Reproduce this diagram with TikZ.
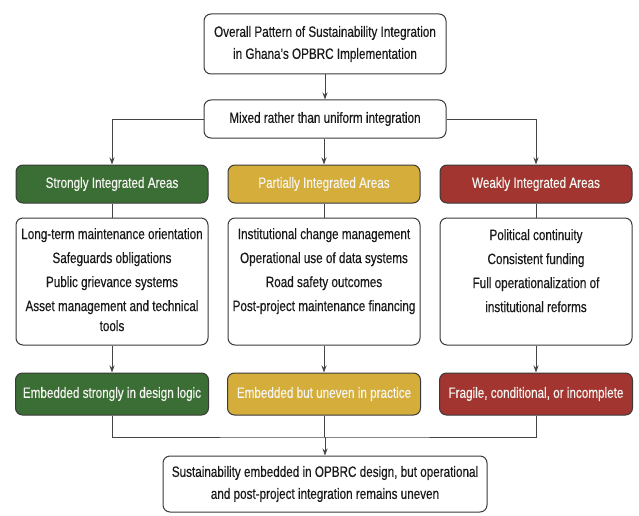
\documentclass[tikz,border=0pt]{standalone}
\usepackage{fontspec}
\setmainfont{Liberation Sans}[FakeStretch=0.78,FakeBold=0.35]
\usetikzlibrary{arrows.meta}
\definecolor{gfill}{HTML}{3B6E35}
\definecolor{yfill}{HTML}{D5AD3B}
\definecolor{rfill}{HTML}{A23530}
\definecolor{bordc}{HTML}{3A3A3A}
\definecolor{linec}{HTML}{444444}
\definecolor{htext}{HTML}{F4F4F0}
\begin{document}
\begin{tikzpicture}[x=1pt,y=-1pt,
  every node/.style={font=\fontsize{15}{22}\selectfont},
  box/.style={draw=bordc, line width=1pt, rounded corners=7pt, fill=white, inner sep=0pt, align=center, text=black!90},
  hdr/.style={box, text=htext, minimum width=192pt, minimum height=38pt},
  wbox/.style={box, minimum width=192pt, minimum height=127pt},
  btm/.style={box, text=htext, minimum width=193pt, minimum height=42pt},
  conn/.style={draw=linec, line width=0.9pt},
  arr/.style={conn, -{Stealth[length=7pt,width=5pt]}}
]
\useasboundingbox (0,0) rectangle (639,516);
\fill[white] (0,0) rectangle (639,516);

\node[box, minimum width=242pt, minimum height=60pt] (top) at (325,44)
  {Overall Pattern of Sustainability Integration\\in Ghana’s OPBRC Implementation};
\node[box, minimum width=242pt, minimum height=38pt] (mixed) at (325,119)
  {Mixed rather than uniform integration};

\node[hdr, fill=gfill] (h1) at (112,184) {Strongly Integrated Areas};
\node[hdr, fill=yfill] (h2) at (324,184) {Partially Integrated Areas};
\node[hdr, fill=rfill] (h3) at (536,184) {Weakly Integrated Areas};

\node[wbox] (c1) at (112,281.5) {};
\node[wbox] (c2) at (324,281.5) {};
\node[wbox] (c3) at (536,281.5) {};

\node[anchor=north, align=center, inner sep=0pt, font=\fontsize{15}{24}\selectfont, text=black!90] (t1) at (112,228)
  {Long-term maintenance orientation\\Safeguards obligations\\Public grievance systems\\Asset management and technical\\[-4pt]tools};
\node[anchor=north, align=center, inner sep=0pt, font=\fontsize{15}{24}\selectfont, text=black!90] (t2) at (324,228)
  {Institutional change management\\Operational use of data systems\\Road safety outcomes\\Post-project maintenance financing};
\node[anchor=north, align=center, inner sep=0pt, font=\fontsize{15}{24}\selectfont, text=black!90] (t3) at (536,229)
  {Political continuity\\Consistent funding\\Full operationalization of\\institutional reforms};

\node[btm, fill=gfill] (b1) at (112,394) {Embedded strongly in design logic};
\node[btm, fill=yfill] (b2) at (324,394) {Embedded but uneven in practice};
\node[btm, fill=rfill] (b3) at (536,394) {Fragile, conditional, or incomplete};

\node[box, minimum width=324pt, minimum height=56pt] (fin) at (325,484)
  {Sustainability embedded in OPBRC design, but operational\\and post-project integration remains uneven};

\coordinate (j) at (325,437);

\draw[arr] (top) -- (mixed);
\draw[arr] (mixed.west) -| (h1.north);
\draw[arr] (mixed.east) -| (h3.north);
\draw[arr] (mixed.south -| h2.north) -- (h2.north);

\draw[conn] (h1) -- (c1);
\draw[conn] (h2) -- (c2);
\draw[conn] (h3) -- (c3);

\draw[arr] (c1) -- (b1);
\draw[arr] (c2) -- (b2);
\draw[arr] (c3) -- (b3);

\draw[conn] (b1.south) |- (j) -| (b3.south);
\draw[conn] (b2.south) -- (b2.south |- j);
\draw[arr] (j) -- (fin);
\end{tikzpicture}
\end{document}
